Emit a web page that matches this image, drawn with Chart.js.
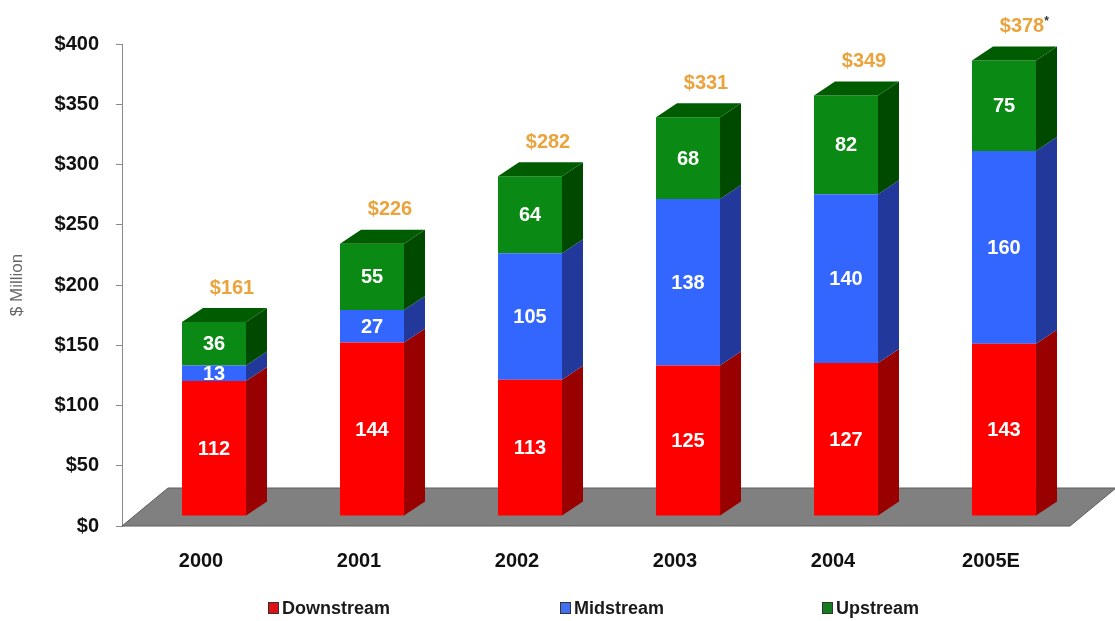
<!DOCTYPE html>
<html>
<head>
<meta charset="utf-8">
<title>Revenue by segment</title>
<script src="https://cdn.jsdelivr.net/npm/chart.js@4.4.0/dist/chart.umd.min.js"></script>
<style>
  html, body { margin: 0; padding: 0; background: #ffffff; }
  #wrap { width: 1115px; height: 621px; }
</style>
</head>
<body>
<div id="wrap"><canvas id="chart" width="1115" height="621"></canvas></div>
<script>
// Chart data
const years = ['2000', '2001', '2002', '2003', '2004', '2005E'];
const downstream = [112, 144, 113, 125, 127, 143];
const midstream = [13, 27, 105, 138, 140, 160];
const upstream = [36, 55, 64, 68, 82, 75];
const totalNotes = ['', '', '', '', '', '*'];
const yMax = 400;
const yStep = 50;

const FONT = "'Liberation Sans', Arial, sans-serif";

// segment colours: front face, side face, top face
const palette = {
  Downstream: { front: '#ff0000', side: '#990000', top: '#cc0000', key: '#e01010' },
  Midstream: { front: '#3366ff', side: '#22389a', top: '#2a4fcc', key: '#4070f0' },
  Upstream: { front: '#0a8a14', side: '#004a00', top: '#005c00', key: '#147d1e' }
};

// 3D geometry (pixels)
const FLOOR_DX = 46, FLOOR_DY = 38;     // floor depth
const SHIFT_X = 13, SHIFT_Y = 10;       // bars sit a bit back on the floor
const DEPTH_DX = 21, DEPTH_DY = 14;     // bar depth

const bar3d = {
  id: 'bar3d',
  beforeDatasetsDraw(chart) {
    const { ctx, chartArea: a } = chart;
    ctx.save();
    ctx.beginPath();
    ctx.moveTo(a.left, a.bottom);
    ctx.lineTo(a.left + FLOOR_DX, a.bottom - FLOOR_DY);
    ctx.lineTo(a.right + FLOOR_DX, a.bottom - FLOOR_DY);
    ctx.lineTo(a.right, a.bottom);
    ctx.closePath();
    ctx.fillStyle = '#808080';
    ctx.fill();
    ctx.strokeStyle = '#5c5c5c';
    ctx.lineWidth = 1;
    ctx.stroke();
    ctx.restore();

    // shift the bars back onto the floor; restored in afterDatasetsDraw
    ctx.save();
    ctx.translate(SHIFT_X, -SHIFT_Y);
  },
  afterDatasetsDraw(chart) {
    const ctx = chart.ctx;
    const sets = chart.data.datasets;
    const lastIdx = sets.length - 1;

    sets.forEach((ds, di) => {
      const meta = chart.getDatasetMeta(di);
      const col = palette[ds.label];
      meta.data.forEach((el) => {
        const xl = el.x - el.width / 2;
        const xr = el.x + el.width / 2;
        const top = Math.min(el.y, el.base);
        const bot = Math.max(el.y, el.base);

        // right side face
        ctx.beginPath();
        ctx.moveTo(xr, top);
        ctx.lineTo(xr + DEPTH_DX, top - DEPTH_DY);
        ctx.lineTo(xr + DEPTH_DX, bot - DEPTH_DY);
        ctx.lineTo(xr, bot);
        ctx.closePath();
        ctx.fillStyle = col.side;
        ctx.fill();

        if (di === lastIdx) {
          ctx.beginPath();
          ctx.moveTo(xl, top);
          ctx.lineTo(xl + DEPTH_DX, top - DEPTH_DY);
          ctx.lineTo(xr + DEPTH_DX, top - DEPTH_DY);
          ctx.lineTo(xr, top);
          ctx.closePath();
          ctx.fillStyle = col.top;
          ctx.fill();
        }
      });
    });

    // value labels inside each segment
    ctx.font = 'bold 20px ' + FONT;
    ctx.fillStyle = '#ffffff';
    ctx.textAlign = 'center';
    ctx.textBaseline = 'middle';
    sets.forEach((ds, di) => {
      chart.getDatasetMeta(di).data.forEach((el, i) => {
        ctx.fillText(String(ds.data[i]), el.x, (el.y + el.base) / 2 + 1);
      });
    });

    // totals above each stack
    const topMeta = chart.getDatasetMeta(lastIdx);
    topMeta.data.forEach((el, i) => {
      const total = sets.reduce((s, ds) => s + ds.data[i], 0);
      const tx = el.x + 18;
      const ty = el.y - DEPTH_DY - 20;
      ctx.font = 'bold 20px ' + FONT;
      ctx.fillStyle = '#eba33c';
      ctx.textAlign = 'center';
      ctx.fillText('$' + total, tx, ty);
      if (totalNotes[i]) {
        const w = ctx.measureText('$' + total).width;
        ctx.font = 'bold 12px ' + FONT;
        ctx.fillStyle = '#333333';
        ctx.textAlign = 'left';
        ctx.fillText(totalNotes[i], tx + w / 2, ty - 5);
      }
    });

    ctx.restore();
  },
  afterDraw(chart) {
    // legend along the bottom
    const ctx = chart.ctx;
    const items = [
      { label: 'Downstream', x: 268 },
      { label: 'Midstream', x: 560 },
      { label: 'Upstream', x: 822 }
    ];
    const y = 608;
    ctx.save();
    ctx.font = 'bold 18px ' + FONT;
    ctx.textBaseline = 'middle';
    ctx.textAlign = 'left';
    items.forEach((it) => {
      ctx.fillStyle = palette[it.label].key;
      ctx.fillRect(it.x, y - 6, 11, 12);
      ctx.strokeStyle = '#333333';
      ctx.lineWidth = 1;
      ctx.strokeRect(it.x + 0.5, y - 5.5, 10, 11);
      ctx.fillStyle = '#1a1a1a';
      ctx.fillText(it.label, it.x + 14, y + 1);
    });
    ctx.restore();
  }
};

const datasets = [
  { label: 'Downstream', data: downstream },
  { label: 'Midstream', data: midstream },
  { label: 'Upstream', data: upstream }
].map((d) => ({
  ...d,
  backgroundColor: palette[d.label].front,
  borderWidth: 0,
  barPercentage: 0.405,
  categoryPercentage: 1
}));

new Chart(document.getElementById('chart'), {
  type: 'bar',
  data: { labels: years, datasets },
  options: {
    responsive: false,
    animation: false,
    devicePixelRatio: 1,
    layout: { padding: { top: 44, right: 45, bottom: 0, left: 0 } },
    plugins: {
      legend: { display: false },
      tooltip: { enabled: false }
    },
    scales: {
      x: {
        stacked: true,
        grid: { display: false },
        border: { display: false },
        ticks: {
          color: '#111111',
          padding: 15,
          font: { family: FONT, size: 20, weight: 'bold' }
        },
        afterFit(scale) { scale.height = 95; }
      },
      y: {
        stacked: true,
        min: 0,
        max: yMax,
        grid: {
          drawOnChartArea: false,
          tickLength: 6,
          color: '#8a8a8a'
        },
        border: { color: '#8a8a8a', width: 1 },
        ticks: {
          stepSize: yStep,
          color: '#111111',
          padding: 17,
          font: { family: FONT, size: 20, weight: 'bold' },
          callback: (v) => '$' + v
        },
        title: {
          display: true,
          text: '$ Million',
          color: '#666666',
          padding: 7,
          font: { family: FONT, size: 17 }
        },
        afterFit(scale) { scale.width = 122; }
      }
    }
  },
  plugins: [bar3d]
});
</script>
</body>
</html>
